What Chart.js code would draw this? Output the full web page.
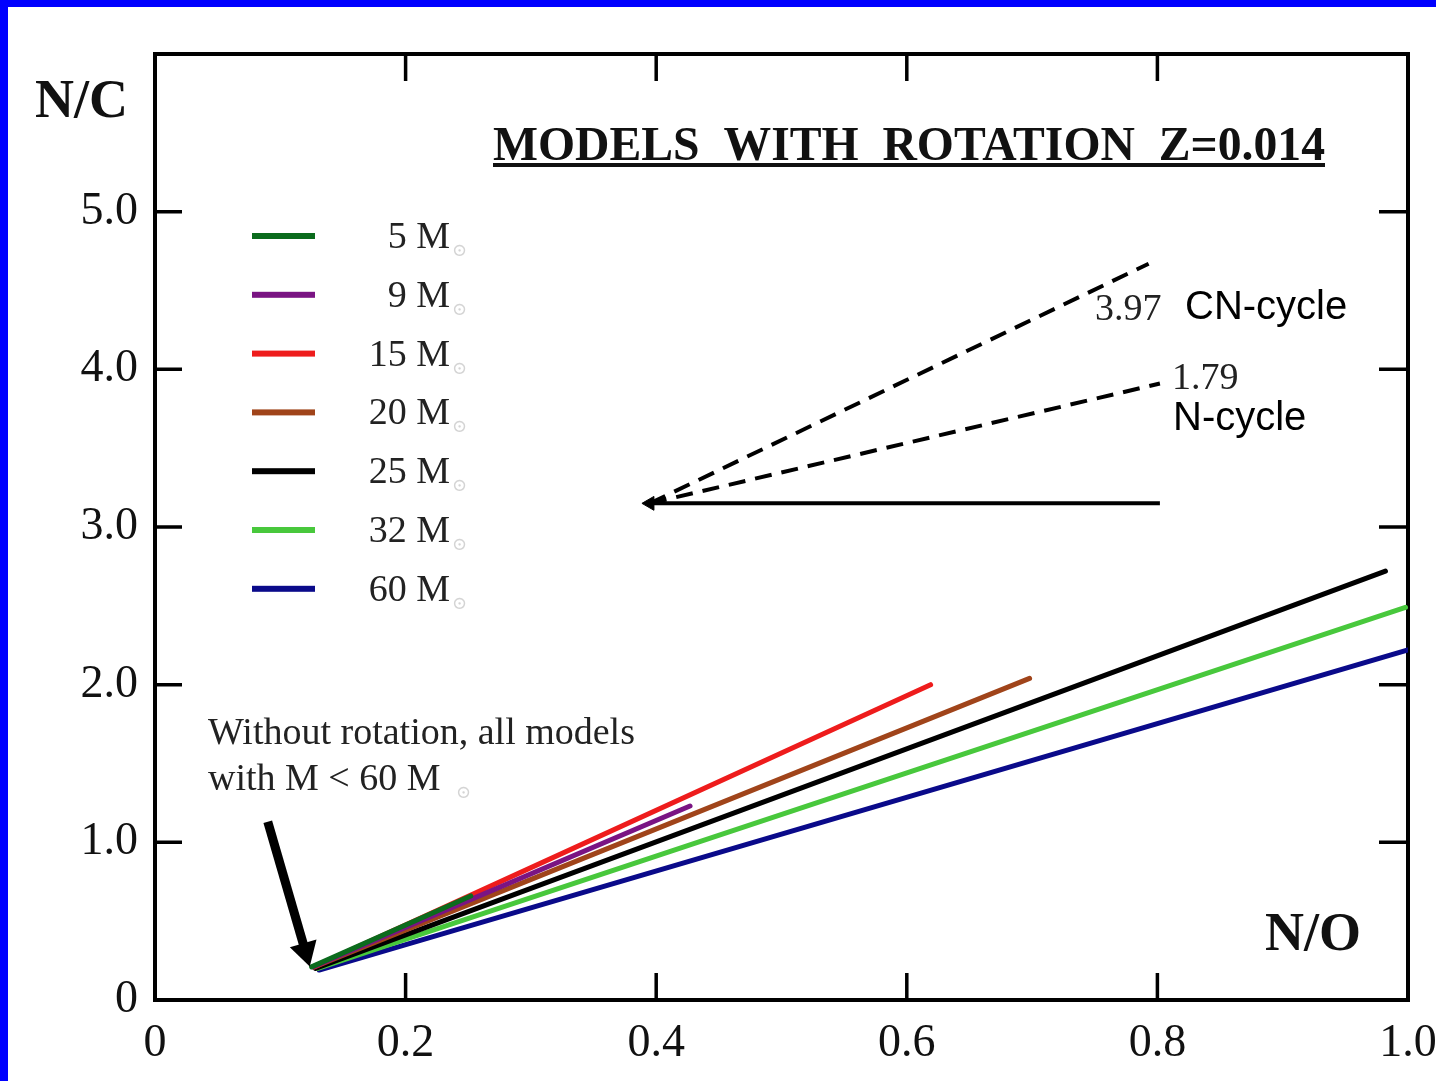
<!DOCTYPE html>
<html>
<head>
<meta charset="utf-8">
<script src="https://cdn.jsdelivr.net/npm/chart.js@4.4.0/dist/chart.umd.min.js"></script>
<style>
    html, body { margin: 0; padding: 0; background: #fff; }
    #wrap { position: relative; width: 1436px; height: 1081px; overflow: hidden; }
    #chart { position: absolute; left: 0; top: 0; }
    .blue-top { position: absolute; left: 0; top: 0; width: 1436px; height: 7px; background: #0000ff; }
    .blue-left { position: absolute; left: 0; top: 0; width: 8px; height: 1081px; background: #0000ff; }
</style>
</head>
<body>
<div id="wrap">
    <canvas id="chart" width="1436" height="1081"></canvas>
    <div class="blue-top"></div>
    <div class="blue-left"></div>
</div>
<script>
// 模型（質量）
const massLabels = ["5 M", "9 M", "15 M", "20 M", "25 M", "32 M", "60 M"];
const massColors = ["#0b6b1d", "#7a1483", "#ee1c1c", "#a0441a", "#000000", "#48c83c", "#0a0a8a"];

// 每條線的起點與終點 (N/O, N/C)
const startNO = [0.125, 0.126, 0.127, 0.127, 0.128, 0.130, 0.131];
const startNC = [0.21, 0.21, 0.21, 0.21, 0.20, 0.20, 0.19];
const endNO = [0.252, 0.427, 0.619, 0.698, 0.982, 0.998, 1.000];
const endNC = [0.66, 1.23, 2.00, 2.04, 2.72, 2.49, 2.22];

// 參考線 (CN-cycle, N-cycle, 水平線)
const refOrigin = { x: 0.395, y: 3.15 };
const cnCycleEnd = { x: 0.793, y: 4.67 };
const nCycleEnd = { x: 0.802, y: 3.91 };
const flatEnd = { x: 0.802, y: 3.15 };

// 無自轉註解箭頭
const arrowStart = { x: 0.090, y: 1.13 };
const arrowHead = { x: 0.120, y: 0.31 };

// 座標軸刻度
const xTicks = [0, 0.2, 0.4, 0.6, 0.8, 1.0];
const yTicks = [0, 1, 2, 3, 4, 5];

const serif = '"Liberation Serif", "DejaVu Serif", serif';
const sans = '"Liberation Sans", Arial, sans-serif';

const modelSets = massLabels.map((label, i) => ({
    label,
    data: [{ x: startNO[i], y: startNC[i] }, { x: endNO[i], y: endNC[i] }],
    showLine: true,
    borderColor: massColors[i],
    backgroundColor: massColors[i],
    borderWidth: 5,
    pointRadius: 0,
    borderCapStyle: "round"
}));

const refSets = [
    { label: "CN-cycle", data: [refOrigin, cnCycleEnd], borderDash: [17, 10] },
    { label: "N-cycle", data: [refOrigin, nCycleEnd], borderDash: [17, 10] },
    { label: "flat", data: [refOrigin, flatEnd], borderDash: [] }
].map(d => ({
    ...d,
    showLine: true,
    borderColor: "#000",
    borderWidth: 4,
    pointRadius: 0
}));

const arrowSets = [
    {
        label: "refTip",
        data: [refOrigin],
        pointStyle: "triangle",
        rotation: 270,
        pointRadius: 8,
        backgroundColor: "#000",
        borderColor: "#000",
        showLine: false
    },
    {
        label: "noRotArrow",
        data: [arrowStart, arrowHead],
        showLine: true,
        borderColor: "#000",
        borderWidth: 9,
        pointRadius: [0, 16],
        pointStyle: "triangle",
        rotation: 164,
        backgroundColor: "#000",
        pointBorderWidth: 0
    }
];

// 外框與向內刻度、文字
const decorPlugin = {
    id: "decor",
    beforeDatasetsDraw(chart) {
        const { ctx, chartArea: a, scales } = chart;
        ctx.save();
        ctx.strokeStyle = "#000";
        ctx.lineWidth = 4;
        ctx.strokeRect(a.left, a.top, a.right - a.left, a.bottom - a.top);
        ctx.lineWidth = 3.5;
        xTicks.slice(1, -1).forEach(v => {
            const px = scales.x.getPixelForValue(v);
            ctx.beginPath();
            ctx.moveTo(px, a.bottom); ctx.lineTo(px, a.bottom - 27);
            ctx.moveTo(px, a.top); ctx.lineTo(px, a.top + 27);
            ctx.stroke();
        });
        yTicks.slice(1).forEach(v => {
            const py = scales.y.getPixelForValue(v);
            ctx.beginPath();
            ctx.moveTo(a.left, py); ctx.lineTo(a.left + 27, py);
            ctx.moveTo(a.right, py); ctx.lineTo(a.right - 29, py);
            ctx.stroke();
        });
        ctx.restore();
    },
    afterDraw(chart) {
        const { ctx } = chart;
        ctx.save();
        ctx.fillStyle = "#111";
        ctx.textBaseline = "alphabetic";

        // 軸名稱
        ctx.font = "bold 54px " + serif;
        ctx.textAlign = "left";
        ctx.fillText("N/C", 35, 117, 94);
        ctx.fillText("N/O", 1265, 950, 98);

        // 標題
        ctx.font = "bold 48px " + serif;
        ctx.fillText("MODELS  WITH  ROTATION  Z=0.014", 493, 160, 832);
        ctx.fillRect(493, 163, 832, 4);

        // 圖例
        massLabels.forEach((lab, i) => {
            const ly = 236 + i * 58.8;
            ctx.fillStyle = massColors[i];
            ctx.fillRect(252, ly - 3, 63, 6);
            ctx.fillStyle = "#222";
            ctx.font = "38px " + serif;
            ctx.textAlign = "right";
            ctx.fillText(lab, 450, ly + 12);
            ctx.fillStyle = "#d4d4d4";
            ctx.font = "18px " + serif;
            ctx.textAlign = "left";
            ctx.fillText("⊙", 452, ly + 20);
        });

        // 斜率標示
        ctx.fillStyle = "#222";
        ctx.font = "38px " + serif;
        ctx.textAlign = "left";
        ctx.fillText("3.97", 1095, 320);
        ctx.fillText("1.79", 1172, 389);
        ctx.fillStyle = "#000";
        ctx.font = "40px " + sans;
        ctx.fillText("CN-cycle", 1185, 319, 166);
        ctx.fillText("N-cycle", 1173, 430, 141);

        // 無自轉註解
        ctx.fillStyle = "#222";
        ctx.font = "38px " + serif;
        ctx.fillText("Without rotation, all models", 208, 744, 452);
        ctx.fillText("with M < 60 M", 208, 790, 246);
        ctx.fillStyle = "#d4d4d4";
        ctx.font = "18px " + serif;
        ctx.fillText("⊙", 456, 798);
        ctx.restore();
    }
};

new Chart(document.getElementById("chart"), {
    type: "scatter",
    data: { datasets: [...arrowSets, ...refSets, ...modelSets] },
    options: {
        responsive: false,
        animation: false,
        devicePixelRatio: 1,
        layout: { padding: { left: 0, top: 54, right: 28, bottom: 0 } },
        plugins: {
            legend: { display: false },
            tooltip: { enabled: false }
        },
        scales: {
            x: {
                type: "linear",
                min: 0,
                max: 1,
                afterBuildTicks: s => { s.ticks = xTicks.map(v => ({ value: v })); },
                afterFit: s => { s.height = 81; s.paddingLeft = 0; s.paddingRight = 0; },
                grid: { display: false, drawTicks: false },
                border: { display: false },
                ticks: {
                    padding: 16,
                    color: "#111",
                    maxRotation: 0,
                    autoSkip: false,
                    font: { family: serif, size: 46 },
                    callback: v => (v === 0 ? "0" : v.toFixed(1))
                }
            },
            y: {
                type: "linear",
                min: 0,
                max: 6,
                afterBuildTicks: s => { s.ticks = yTicks.map(v => ({ value: v })); },
                afterFit: s => { s.width = 155; s.paddingTop = 0; s.paddingBottom = 0; },
                grid: { display: false, drawTicks: false },
                border: { display: false },
                ticks: {
                    padding: 17,
                    color: "#111",
                    autoSkip: false,
                    font: { family: serif, size: 46 },
                    callback: v => (v === 0 ? "0" : v.toFixed(1))
                }
            }
        }
    },
    plugins: [decorPlugin]
});
</script>
</body>
</html>
